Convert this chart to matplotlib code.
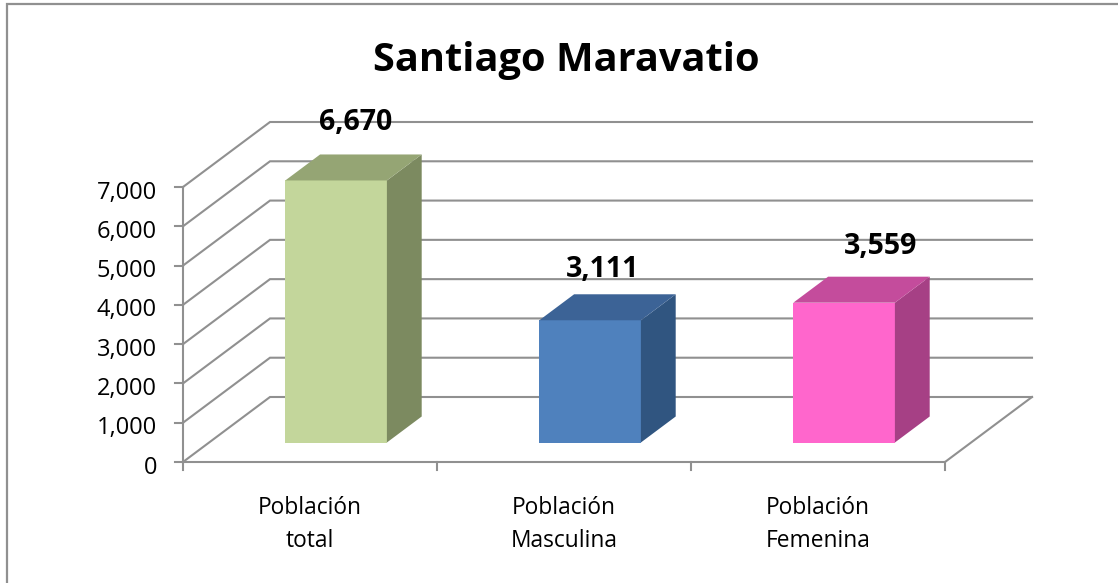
import matplotlib
matplotlib.use('Agg')
import matplotlib.pyplot as plt
from matplotlib.patches import Polygon

plt.rcParams['font.family'] = ['Open Sans', 'DejaVu Sans']

titulo = 'Santiago Maravatio'
categorias = ['Población\ntotal', 'Población\nMasculina', 'Población\nFemenina']
valores = [6670, 3111, 3559]
etiquetas = ['6,670', '3,111', '3,559']
ticks = [0, 1000, 2000, 3000, 4000, 5000, 6000, 7000]
frente = ['#C3D69B', '#4F81BD', '#FF66CC']
lateral = ['#7C8A60', '#305580', '#A64085']
arriba = ['#95A574', '#3C6396', '#C44C9C']
gris = '#909090'

# ajuste manual de las etiquetas, en pixeles
etiqueta_dx = [2.5, -5, 19.5]
etiqueta_dy = [44.5, 37.5, 43.5]

W, H = 1118, 583
fig = plt.figure(figsize=(W / 100, H / 100), dpi=100)
# marco del grafico: abajo y a la derecha queda cortado por la imagen
fig.add_artist(plt.Line2D([7 / W, 7 / W, 1], [0, 1 - 3.5 / H, 1 - 3.5 / H], color=gris, lw=1.6,
                          solid_joinstyle='miter'))

# eje frontal: cada categoria mide 254 px, 7000 miden 275 px
ax = fig.add_axes([183 / W, 1 - 462 / H, 762 / W, 275 / H])
ax.set_xlim(0, 3)
ax.set_ylim(0, 7000)
ax.axis('off')

px_x = 1 / 254
px_y = 7000 / 275
prof_x = 87 * px_x     # desplazamiento de la pared del fondo
prof_y = 65 * px_y


def p(x, y, d=0.0):
    return (x + d * prof_x, y + d * prof_y)


# rejilla: pared izquierda y pared del fondo
for t in ticks:
    ax.plot(*zip(p(0, t), p(0, t, 1), p(3, t, 1)), color=gris, lw=1.5, clip_on=False,
            solid_joinstyle='miter', zorder=1)
ax.plot(*zip(p(0, 0), p(3, 0), p(3, 0, 1)), color=gris, lw=1.5, clip_on=False, zorder=1)
ax.plot(*zip(p(0, 0), p(0, 7000)), color=gris, lw=1.5, clip_on=False, zorder=2)

# marcas de los ejes
for t in ticks:
    ax.plot([-8 * px_x, 0], [t, t], color=gris, lw=1.5, clip_on=False)
for i in range(4):
    ax.plot([i, i], [0, -8 * px_y], color=gris, lw=1.5, clip_on=False)
for t in ticks:
    ax.text(-26 * px_x, t - 140, f'{t:,}', ha='right', va='center', fontsize=17, color='black')

# barras en perspectiva
ancho = 0.4
for i, v in enumerate(valores):
    x0 = i + 0.5 - ancho / 2
    x1 = x0 + ancho
    d0, d1 = 0.3, 0.7
    ax.add_patch(Polygon([p(x0, 0, d0), p(x1, 0, d0), p(x1, v, d0), p(x0, v, d0)],
                         fc=frente[i], ec='none', clip_on=False, zorder=4))
    ax.add_patch(Polygon([p(x1, 0, d0), p(x1, 0, d1), p(x1, v, d1), p(x1, v, d0)],
                         fc=lateral[i], ec='none', clip_on=False, zorder=4))
    ax.add_patch(Polygon([p(x0, v, d0), p(x1, v, d0), p(x1, v, d1), p(x0, v, d1)],
                         fc=arriba[i], ec='none', clip_on=False, zorder=4))
    cx, cy = p(i + 0.5, v, 0.5)
    ax.text(cx + etiqueta_dx[i] * px_x, cy + etiqueta_dy[i] * px_y, etiquetas[i], ha='center',
            va='center', fontsize=20.5, fontweight='bold', color='black', zorder=5)
    ax.text(i + 0.5, -1588, categorias[i], ha='center', va='center', fontsize=16.4,
            linespacing=1.5, color='black')

fig.text(566 / W, 1 - 60 / H, titulo, ha='center', va='center', fontsize=28.6, fontweight='bold')

fig.savefig('out.png', dpi=100)
